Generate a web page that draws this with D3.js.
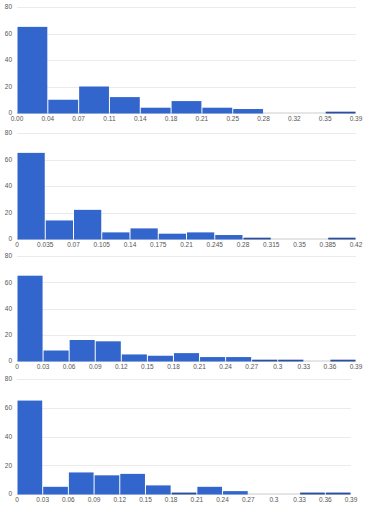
<!DOCTYPE html>
<html>
<head>
<meta charset="utf-8">
<script src="https://cdn.jsdelivr.net/npm/d3@7"></script>
<style>
  html, body { margin: 0; padding: 0; background: #fff; }
  svg { display: block; }
  text { font-family: Arial, "Liberation Sans", sans-serif; }
</style>
</head>
<body>
<script>
// ---- data ----
const counts1 = [65, 10, 20, 12, 4, 9, 4, 3, 0, 0, 1];
const edges1 = ["0.00", "0.04", "0.07", "0.11", "0.14", "0.18", "0.21", "0.25", "0.28", "0.32", "0.35", "0.39"];

const counts2 = [65, 14, 22, 5, 8, 4, 5, 3, 1, 0, 0, 1];
const edges2 = ["0", "0.035", "0.07", "0.105", "0.14", "0.175", "0.21", "0.245", "0.28", "0.315", "0.35", "0.385", "0.42"];

const counts3 = [65, 8, 16, 15, 5, 4, 6, 3, 3, 1, 1, 0, 1];
const edges3 = ["0", "0.03", "0.06", "0.09", "0.12", "0.15", "0.18", "0.21", "0.24", "0.27", "0.3", "0.33", "0.36", "0.39"];

const counts4 = [65, 5, 15, 13, 14, 6, 1, 5, 2, 0, 0, 1, 1];
const edges4 = ["0", "0.03", "0.06", "0.09", "0.12", "0.15", "0.18", "0.21", "0.24", "0.27", "0.3", "0.33", "0.36", "0.39"];

const yTicks = [0, 20, 40, 60, 80];

// ---- layout ----
const W = 369, H = 505;
const panels = [
  { counts: counts1, edges: edges1, left: 17, right: 356, top: 7,   bottom: 113 },
  { counts: counts2, edges: edges2, left: 17, right: 356, top: 133, bottom: 239 },
  { counts: counts3, edges: edges3, left: 17, right: 356, top: 256, bottom: 361 },
  { counts: counts4, edges: edges4, left: 17, right: 351, top: 379, bottom: 494 }
];

const svg = d3.select("body").append("svg").attr("width", W).attr("height", H);

panels.forEach(p => {
  const g = svg.append("g");
  const n = p.counts.length;
  const x = d3.scaleLinear().domain([0, n]).range([p.left, p.right]);
  const y = d3.scaleLinear().domain([0, 80]).range([p.bottom, p.top]);

  // gridlines
  g.selectAll("line.grid").data(yTicks.filter(t => t > 0)).enter().append("line")
    .attr("x1", p.left).attr("x2", p.right)
    .attr("y1", d => Math.round(y(d)) + 0.5).attr("y2", d => Math.round(y(d)) + 0.5)
    .attr("stroke", "#ebebeb").attr("stroke-width", 1);

  // baseline
  g.append("line")
    .attr("x1", p.left).attr("x2", p.right)
    .attr("y1", y(0)).attr("y2", y(0))
    .attr("stroke", "#cccccc").attr("stroke-width", 1);

  // bars
  g.selectAll("rect.bar").data(p.counts.map((c, i) => ({ c, i })).filter(d => d.c > 0))
    .enter().append("rect")
    .attr("class", "bar")
    .attr("x", d => x(d.i) + 0.5)
    .attr("width", d => x(d.i + 1) - x(d.i) - 1)
    .attr("y", d => y(d.c))
    .attr("height", d => y(0) - y(d.c) + 0.5)
    .attr("fill", d => d.c <= 1 ? "#2a4f9e" : "#3366cc");

  // y axis labels
  g.selectAll("text.yl").data(yTicks).enter().append("text")
    .attr("x", p.left - 5)
    .attr("y", d => y(d))
    .attr("dy", "0.35em")
    .attr("text-anchor", "end")
    .attr("font-size", 6.5)
    .attr("fill", "#555")
    .text(d => d);

  // x axis labels at bin edges
  g.selectAll("text.xl").data(p.edges).enter().append("text")
    .attr("x", (d, i) => x(i))
    .attr("y", p.bottom + 7.5)
    .attr("text-anchor", "middle")
    .attr("font-size", 6.5)
    .attr("fill", "#555")
    .text(d => d);
});
</script>
</body>
</html>
